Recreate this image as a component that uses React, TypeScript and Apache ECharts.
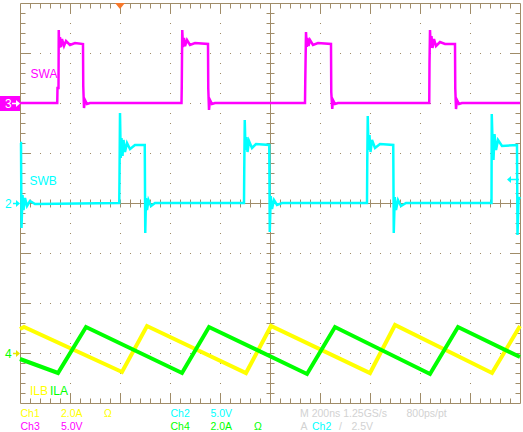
import React, { useEffect, useRef } from "react";
import * as echarts from "echarts";

// Time base: 200 ns/div, 10 divisions (0..2000 ns). Vertical: 8 divisions (-4..4).
const NS_PER_DIV = 200;

// Channel settings (units per division, ground offset in divisions)
const ch3Scale = 5.0; // SWA, V/div
const ch3Offset = 2;
const ch2Scale = 5.0; // SWB, V/div
const ch2Offset = 0;
const ch1Scale = 2.0; // ILB, A/div
const ch1Offset = -3;
const ch4Scale = 2.0; // ILA, A/div
const ch4Offset = -3;

// SWA (Ch3) [time ns, volts]
const swaPoints: [number, number][] = [
  [0, 0], [149, 0], [150, 1.5], [154, 1.5], [155, 7.3], [157, 5.5], [160, 6.6], [164, 5.6], [168, 6.4],
  [176, 5.7], [184, 6.2], [200, 5.8], [220, 6.0], [252, 5.9], [253, 1.7], [256, -0.5], [260, 0.3],
  [268, -0.1], [280, 0],
  [646, 0], [647, 1.6], [649, 7.3], [652, 5.6], [656, 6.5], [660, 5.7], [668, 6.3], [680, 5.8],
  [700, 6.0], [752, 5.9], [753, 1.5], [756, -0.7], [760, 0.3], [768, -0.1], [780, 0],
  [1140, 0], [1141, 2.1], [1144, 7.1], [1147, 5.6], [1150, 6.5], [1154, 5.7], [1160, 6.3], [1172, 5.8],
  [1192, 6.0], [1244, 5.9], [1245, 1.1], [1249, -0.6], [1252, 0.3], [1260, -0.1], [1272, 0],
  [1637, 0], [1638, 4.0], [1640, 7.3], [1643, 5.5], [1646, 6.7], [1650, 5.5], [1656, 6.4], [1664, 5.7],
  [1680, 6.1], [1700, 5.9], [1740, 5.9], [1741, 1.5], [1744, -0.6], [1748, 0.3], [1756, -0.1],
  [1768, 0], [2000, 0],
];

// SWB (Ch2) [time ns, volts]
const swbPoints: [number, number][] = [
  [0, 6.0], [4, 6.0], [6, -2.5], [10, 0.8], [14, -0.7], [20, 0.5], [28, -0.3], [40, 0.2], [60, -0.1],
  [397, 0], [398, 2.5], [400, 9.0], [403, 4.5], [406, 6.5], [410, 4.7], [414, 6.3], [420, 5.1],
  [428, 6.0], [440, 5.4], [460, 5.8], [499, 5.8], [501, -3.0], [504, 0.5], [508, -0.7], [514, 0.3],
  [524, -0.3], [540, 0],
  [896, 0], [897, 3.3], [899, 8.3], [902, 5.3], [906, 6.6], [910, 5.1], [916, 6.2], [928, 5.5],
  [944, 5.9], [997, 5.8], [999, -2.9], [1003, 0.7], [1008, -0.6], [1016, 0.3], [1028, -0.2], [1048, 0],
  [1388, 0], [1389, 4.0], [1391, 8.7], [1394, 5.3], [1398, 6.8], [1402, 5.1], [1408, 6.3], [1420, 5.5],
  [1440, 5.9], [1493, 5.8], [1495, -3.0], [1499, 0.6], [1504, -0.7], [1512, 0.3], [1524, -0.3],
  [1544, 0],
  [1886, 0], [1887, 8.9], [1890, 6.3], [1894, 4.3], [1898, 6.9], [1904, 5.3], [1912, 6.3], [1928, 5.7],
  [1988, 5.8], [1990, -3.2], [1994, 0.3], [2000, 0.6],
];

// ILB (Ch1) [time ns, amps]
const ilbPoints: [number, number][] = [
  [0, 0.96], [16, 1.04], [408, -0.76], [508, 1.08], [904, -0.8], [1004, 1.08], [1400, -0.8],
  [1500, 1.12], [1888, -0.8], [2000, 1.08],
];

// ILA (Ch4) [time ns, amps]
const ilaPoints: [number, number][] = [
  [0, -0.24], [152, -0.8], [264, 1.04], [648, -0.8], [756, 1.04], [1148, -0.84], [1260, 1.04],
  [1640, -0.84], [1752, 1.04], [2000, -0.16],
];

const G = "#a08c68";
const MAG = "#ff00ff";
const CYAN = "#00ffff";
const YEL = "#ffff00";
const GRN = "#00ff00";
const GRAY = "#d2d2d2";

const fntNarrow = (s: number) => `${s}px 'Liberation Sans Narrow', 'Liberation Sans', Arial, sans-serif`;
const fntReg = (s: number) => `${s}px 'Liberation Sans', Arial, sans-serif`;

const toDiv = (pts: [number, number][], offset: number, scale: number) =>
  pts.map(([t, v]) => [t, offset + v / scale]);

function graticule(_params: any, api: any) {
  const c = (t: number, d: number) => api.coord([t, d]);
  const [L, T] = c(0, 4);
  const [R, B] = c(NS_PER_DIV * 10, -4);
  const px = (v: number) => Math.round(v) + 0.5;
  const kids: any[] = [];
  const ln = (x1: number, y1: number, x2: number, y2: number, dash?: number[]) =>
    kids.push({
      type: "line",
      shape: { x1, y1, x2, y2 },
      style: dash ? { stroke: G, lineWidth: 1, lineDash: dash } : { stroke: G, lineWidth: 1 },
    });
  for (let i = 1; i < 10; i++) {
    if (i === 5) continue;
    const x = px(c(i * NS_PER_DIV, 0)[0]);
    ln(x, Math.round(T), x, Math.round(B), [1, 9]);
  }
  for (let j = -3; j <= 3; j++) {
    if (j === 0) continue;
    const y = px(c(0, j)[1]);
    ln(Math.round(L), y, Math.round(R), y, [1, 9]);
  }
  const cx = px(c(NS_PER_DIV * 5, 0)[0]);
  const cy = px(c(0, 0)[1]);
  ln(px(L), cy, px(R), cy);
  ln(cx, px(T), cx, px(B));
  for (let k = 1; k < 50; k++) {
    const x = px(c((k * NS_PER_DIV) / 5, 0)[0]);
    const len = k % 5 === 0 ? 10 : 5;
    ln(x, px(T), x, px(T) + len);
    ln(x, px(B), x, px(B) - len);
    ln(x, cy - 4, x, cy + 4);
  }
  for (let k = 1; k < 40; k++) {
    const y = px(c(0, -4 + k * 0.2)[1]);
    const len = k % 5 === 0 ? 10 : 5;
    ln(px(L), y, px(L) + len, y);
    ln(px(R), y, px(R) - len, y);
    ln(cx - 4, y, cx + 4, y);
  }
  kids.push({
    type: "rect",
    shape: { x: px(L), y: px(T), width: px(R) - px(L), height: px(B) - px(T) },
    style: { fill: "none", stroke: G, lineWidth: 1 },
  });
  return { type: "group", children: kids };
}

const txt = (text: string, x: number, y: number, fill: string, font = fntNarrow(12)) => ({
  type: "text",
  x,
  y,
  style: { text, fill, font, textVerticalAlign: "middle", verticalAlign: "middle" },
  z: 20,
});
const ro = (text: string, x: number, y: number, fill: string) => txt(text, x, y, fill, fntReg(10.5));

const arrowRight = (x1: number, x2: number, y: number, color: string) => [
  { type: "line", shape: { x1, y1: y, x2: x2 - 3, y2: y }, style: { stroke: color, lineWidth: 1.5 }, z: 20 },
  { type: "polygon", shape: { points: [[x2 - 4, y - 3.5], [x2, y], [x2 - 4, y + 3.5]] }, style: { fill: color }, z: 20 },
];
const arrowLeft = (x1: number, x2: number, y: number, color: string) => [
  { type: "line", shape: { x1: x1 + 3, y1: y, x2, y2: y }, style: { stroke: color, lineWidth: 1.5 }, z: 20 },
  { type: "polygon", shape: { points: [[x1 + 4, y - 3.5], [x1, y], [x1 + 4, y + 3.5]] }, style: { fill: color }, z: 20 },
];

export default function App() {
  const ref = useRef<HTMLDivElement>(null);
  useEffect(() => {
    if (!ref.current) return;
    const chart = echarts.init(ref.current, undefined, { renderer: "svg" });
    const lineSeries = (data: number[][], color: string, width: number, z: number) => ({
      type: "line",
      data,
      showSymbol: false,
      symbol: "none",
      silent: true,
      z,
      lineStyle: { color, width, join: "miter" },
    });
    chart.setOption({
      animation: false,
      backgroundColor: "#ffffff",
      grid: { left: 20, top: 3, width: 500, height: 400 },
      xAxis: { type: "value", min: 0, max: NS_PER_DIV * 10, show: false },
      yAxis: { type: "value", min: -4, max: 4, show: false },
      series: [
        { type: "custom", renderItem: graticule, data: [[0, 0]], silent: true, clip: false, z: 1 },
        lineSeries(toDiv(ilbPoints, ch1Offset, ch1Scale), YEL, 4, 3),
        lineSeries(toDiv(ilaPoints, ch4Offset, ch4Scale), GRN, 4, 4),
        lineSeries(toDiv(swbPoints, ch2Offset, ch2Scale), CYAN, 2.5, 5),
        lineSeries(toDiv(swaPoints, ch3Offset, ch3Scale), MAG, 2.5, 6),
      ],
      graphic: [
        // trigger position marker
        { type: "polygon", shape: { points: [[115, 3], [125, 3], [120, 9]] }, style: { fill: "#f7782a" }, z: 20 },
        // channel 3 marker
        { type: "rect", shape: { x: 0, y: 96, width: 20, height: 15 }, style: { fill: MAG }, z: 19 },
        txt("3", 5, 103.5, "#ffffff"),
        ...arrowRight(12, 20, 103.5, "#ffffff"),
        // channel 2 marker
        txt("2", 5, 203.5, CYAN),
        ...arrowRight(13, 20, 203.5, CYAN),
        // channel 4 / 1 marker
        txt("4", 5, 353.5, GRN),
        ...arrowRight(13, 20, 353.5, "#e6e600"),
        // trigger level
        ...arrowLeft(507, 519, 179.5, CYAN),
        // trace labels
        txt("SWA", 30.5, 73.5, MAG),
        txt("SWB", 29.5, 180.5, CYAN),
        txt("ILB", 30, 391, YEL),
        txt("ILA", 50, 391, GRN),
        // readouts row 1
        ro("Ch1", 20.5, 413, YEL),
        ro("2.0A", 61, 413, YEL),
        ro("Ω", 104, 413, YEL),
        ro("Ch2", 170.5, 413, CYAN),
        ro("5.0V", 210.5, 413, CYAN),
        ro("M 200ns 1.25GS/s", 300, 413, GRAY),
        ro("800ps/pt", 406.5, 413, GRAY),
        // readouts row 2
        ro("Ch3", 20.5, 425.5, MAG),
        ro("5.0V", 61, 425.5, MAG),
        ro("Ch4", 170.5, 425.5, GRN),
        ro("2.0A", 210.5, 425.5, GRN),
        ro("Ω", 254, 425.5, GRN),
        ro("A", 300.5, 425.5, GRAY),
        ro("Ch2", 312, 425.5, CYAN),
        ro("/", 339, 425.5, GRAY),
        ro("2.5V", 351.5, 425.5, GRAY),
      ],
    });
    return () => chart.dispose();
  }, []);
  return (
    <div
      ref={ref}
      style={{ position: "fixed", left: 0, top: 0, width: 523, height: 432, background: "#ffffff" }}
    />
  );
}
